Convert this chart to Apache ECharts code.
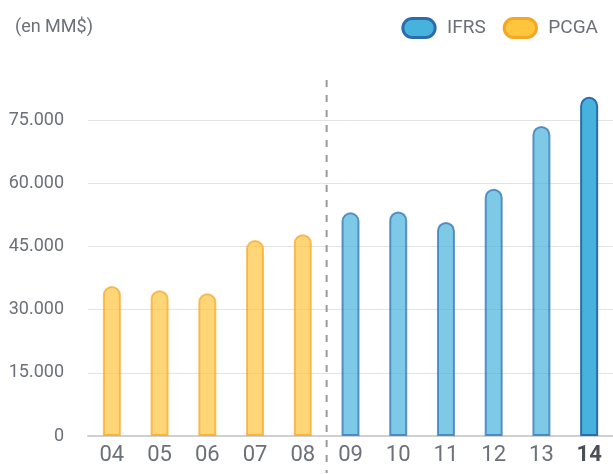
<!DOCTYPE html>
<html>
<head>
<meta charset="utf-8">
<script src="https://cdn.jsdelivr.net/npm/echarts@6/dist/echarts.min.js"></script>
<style>
    html, body { margin: 0; padding: 0; background: #fff; }
    #chart { width: 613px; height: 474px; }
</style>
</head>
<body>
<div id="chart"></div>
<script>
    // années (04 = 2004 ... 14 = 2014)
    const years = ['04', '05', '06', '07', '08', '09', '10', '11', '12', '13', '14'];
    // PCGA jusqu'en 2008, IFRS ensuite (en MM$)
    const pcga = [35600, 34600, 33900, 46500, 47900, null, null, null, null, null, null];
    const ifrs = [null, null, null, null, null, 53100, 53300, 50800, 58700, 73600, 80500];
    const yTicks = [0, 15000, 30000, 45000, 60000, 75000];
    // séparateur pointillé entre 08 et 09
    const divider = [[4.5, 84500], [4.5, -8800]];

    const grey = '#6b7079';
    const pill = 'path://M10,0 L24,0 A10,10 0 0 1 24,20 L10,20 A10,10 0 0 1 10,0 Z';
    const last = years.length - 1;

    const toItems = (arr) => arr.map((v, i) => {
        if (v === null) return '-';
        return { value: v, itemStyle: { opacity: i === last ? 1 : 0.7 } };
    });

    const chart = echarts.init(document.getElementById('chart'));
    chart.setOption({
        animation: false,
        textStyle: { fontFamily: 'Roboto, sans-serif' },
        title: {
            text: '(en MM$)',
            left: 10,
            top: 13,
            textStyle: { fontSize: 18, fontWeight: 'normal', color: grey }
        },
        legend: {
            right: 10,
            top: 12,
            itemWidth: 34,
            itemHeight: 19,
            itemGap: 17,
            icon: pill,
            textStyle: { fontSize: 19, color: grey, padding: [0, 0, 0, 6] },
            data: [
                { name: 'IFRS', itemStyle: { borderWidth: 3 } },
                { name: 'PCGA', itemStyle: { borderWidth: 3 } }
            ]
        },
        grid: { left: 88, right: -2, top: 120, bottom: 38 },
        xAxis: [{
            type: 'category',
            data: years,
            axisTick: { show: false },
            axisLine: { lineStyle: { color: '#cfd0d3', width: 2 } },
            axisLabel: {
                interval: 0,
                fontSize: 22,
                color: grey,
                margin: 8,
                formatter: (v, i) => (i === last ? '{b|' + v + '}' : v),
                rich: { b: { fontSize: 22, fontWeight: 'bold', color: '#4a4f56' } }
            }
        }, {
            type: 'value',
            min: -0.5,
            max: 10.5,
            show: false
        }],
        yAxis: {
            type: 'value',
            min: yTicks[0],
            max: yTicks[yTicks.length - 1],
            interval: 15000,
            axisLine: { show: false },
            axisTick: { show: false },
            splitLine: { lineStyle: { color: '#e2e3e5', width: 1 } },
            axisLabel: {
                fontSize: 18,
                color: grey,
                margin: 24,
                formatter: (v) => v.toLocaleString('de-DE')
            }
        },
        series: [{
            name: 'PCGA',
            type: 'bar',
            barWidth: 18,
            barGap: '-100%',
            clip: false,
            itemStyle: { color: '#ffc53d', borderColor: '#f5a623', borderWidth: 2, borderRadius: [10, 10, 0, 0] },
            data: toItems(pcga)
        }, {
            name: 'IFRS',
            type: 'bar',
            barWidth: 18,
            barGap: '-100%',
            clip: false,
            itemStyle: { color: '#47b3dc', borderColor: '#2b6cb0', borderWidth: 2, borderRadius: [10, 10, 0, 0] },
            data: toItems(ifrs)
        }, {
            type: 'line',
            xAxisIndex: 1,
            clip: false,
            symbol: 'none',
            silent: true,
            lineStyle: { color: '#9a9a9a', width: 2, type: [7, 8] },
            data: divider
        }]
    });
</script>
</body>
</html>
